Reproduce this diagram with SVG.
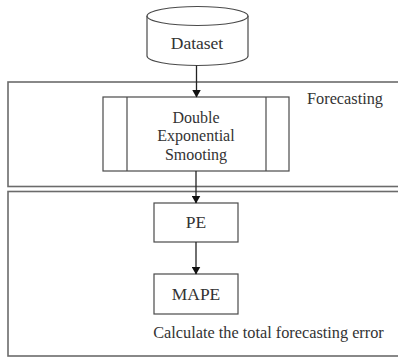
<svg xmlns="http://www.w3.org/2000/svg" width="398" height="358" viewBox="0 0 398 358">
<style>
.frame{fill:none;stroke:#6b6b6b;stroke-width:1.6}
.node{fill:#fff;stroke:#4a4a4a;stroke-width:1.2}
.t{font-family:"Liberation Serif","Times New Roman",serif;fill:#333;text-anchor:middle}
.big{font-size:17.5px}
.mid{font-size:16px}
.small{font-size:16.3px}
.edge{stroke:#222;stroke-width:1.3;fill:none;marker-end:url(#ah)}
</style>
<defs>
<marker id="ah" markerWidth="8" markerHeight="9" refX="7.5" refY="4.5" orient="auto" markerUnits="userSpaceOnUse">
<path d="M0,0 L8,4.5 L0,9 Z" fill="#111"/>
</marker>
</defs>
<rect width="398" height="358" fill="#fff"/>
<g id="forecasting-panel">
<rect class="frame" x="8" y="82" width="400" height="104.5"/>
<text class="t small" x="345" y="104">Forecasting</text>
</g>
<g id="error-panel">
<rect class="frame" x="8" y="191.5" width="400" height="164.5"/>
<text class="t small" x="268.5" y="338">Calculate the total forecasting error</text>
</g>
<g id="dataset">
<path class="node" d="M147,16 L147,56 A50.5,9.5 0 0 0 248,56 L248,16"/>
<ellipse class="node" cx="197.5" cy="16" rx="50.5" ry="9.5"/>
<text class="t big" x="197" y="49">Dataset</text>
</g>
<g id="des">
<rect class="node" x="103" y="97" width="186" height="74"/>
<line class="node" x1="127" y1="97" x2="127" y2="171"/>
<line class="node" x1="266" y1="97" x2="266" y2="171"/>
<text class="t mid" x="196" y="122.5">Double</text>
<text class="t mid" x="196" y="141">Exponential</text>
<text class="t mid" x="196" y="159.5">Smooting</text>
</g>
<g id="pe">
<rect class="node" x="154" y="203" width="84" height="39"/>
<text class="t big" x="196" y="228">PE</text>
</g>
<g id="mape">
<rect class="node" x="154" y="274" width="84" height="40"/>
<text class="t big" x="196" y="300">MAPE</text>
</g>
<g id="connectors">
<line class="edge" x1="196.5" y1="65.5" x2="196.5" y2="97"/>
<line class="edge" x1="196" y1="171" x2="196" y2="203"/>
<line class="edge" x1="196" y1="242" x2="196" y2="274"/>
</g>
</svg>
